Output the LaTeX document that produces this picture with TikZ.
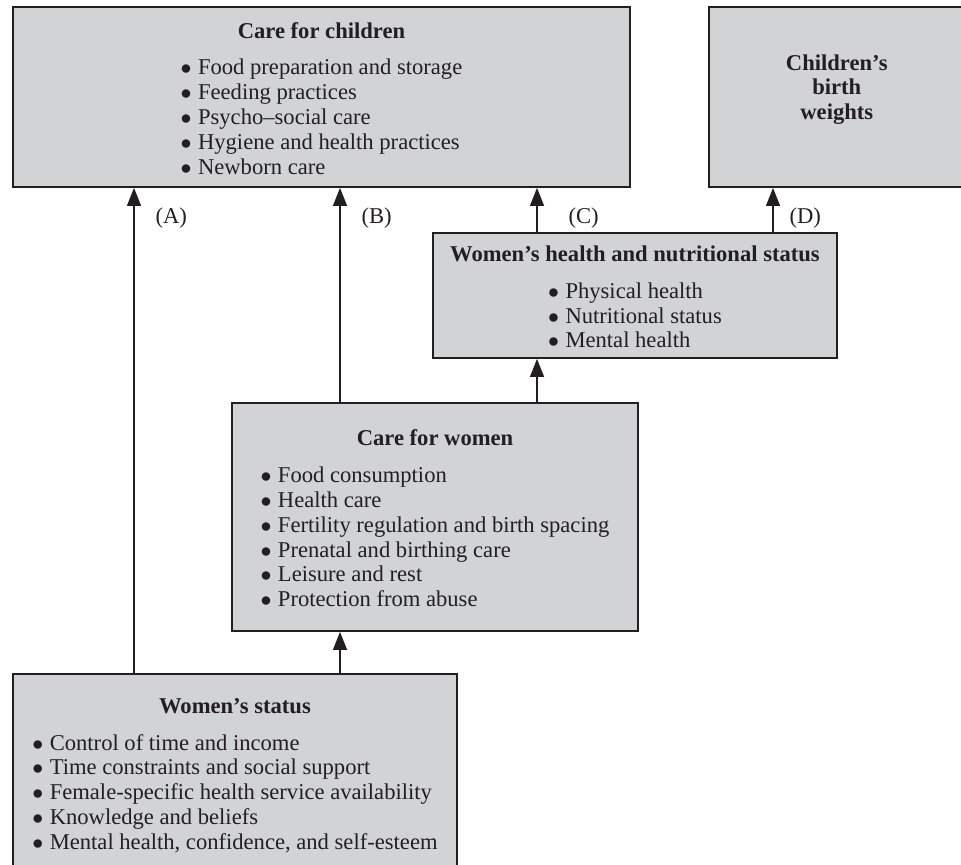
\documentclass[tikz,border=0pt]{standalone}
\usepackage{fontspec}
\setmainfont{Liberation Serif}
\usetikzlibrary{arrows.meta,positioning}

\definecolor{boxgray}{RGB}{209,211,212}
\definecolor{ink}{RGB}{35,31,32}

% title plus a left-aligned list, centred as a block
\newcommand{\itemlist}[2]{\rule{0pt}{13pt}\textbf{#1}\\[5.9pt]\begin{tabular}[t]{@{}l@{}}#2\end{tabular}}
\newcommand{\bul}{$\bullet$\hspace{3.2pt}}

\begin{document}
\begin{tikzpicture}[
    x=0.5pt, y=-0.5pt,
    node distance=38.5pt,
    box/.style={rectangle, draw=ink, line width=0.9pt, fill=boxgray, align=center, text=ink, inner sep=0pt, font=\fontsize{11.3pt}{12.4pt}\selectfont},
    arrow/.style={-{Triangle[length=9pt,width=7pt]}, line width=0.6pt, draw=ink, fill=ink},
    lbl/.style={inner sep=0pt, text=ink, font=\fontsize{11.3pt}{12.4pt}\selectfont}
]
\useasboundingbox (0,0) rectangle (961,864);

\node[box, minimum width=308.5pt, minimum height=90pt] (children) at (321.5,97)
    {\itemlist{Care for children}{\bul Food preparation and storage\\ \bul Feeding practices\\ \bul Psycho--social care\\ \bul Hygiene and health practices\\ \bul Newborn care}};
\node[box, minimum width=128pt, minimum height=90pt, right=of children] (weights)
    {\textbf{Children's}\\ \textbf{birth}\\ \textbf{weights}\\[-2.4pt]\mbox{}};
\node[box, minimum width=202pt, minimum height=62.5pt] (health) at (635,295.5)
    {\itemlist{Women's health and nutritional status}{\bul Physical health\\ \bul Nutritional status\\ \bul Mental health}};
\node[box, minimum width=203pt, minimum height=114pt] (carewomen) at (435,517)
    {\itemlist{Care for women}{\bul Food consumption\\ \bul Health care\\ \bul Fertility regulation and birth spacing\\ \bul Prenatal and birthing care\\ \bul Leisure and rest\\ \bul Protection from abuse}};
\node[box, minimum width=222pt, minimum height=98pt] (status) at (235,772)
    {\itemlist{Women's status}{\bul Control of time and income\\ \bul Time constraints and social support\\ \bul Female-specific health service availability\\ \bul Knowledge and beliefs\\ \bul Mental health, confidence, and self-esteem}};

\draw[arrow] (status.north -| 134,0) -- (children.south -| 134,0)
    node[lbl, at end, anchor=west, xshift=10.5pt, yshift=-15pt] {(A)};
\draw[arrow] (carewomen.north -| 340,0) -- (children.south -| 340,0)
    node[lbl, at end, anchor=west, xshift=10.5pt, yshift=-15pt] {(B)};
\draw[arrow] (health.north -| 537,0) -- (children.south -| 537,0)
    node[lbl, at end, anchor=west, xshift=15.5pt, yshift=-15pt] {(C)};
\draw[arrow] (health.north -| 773,0) -- (weights.south -| 773,0)
    node[lbl, at end, anchor=west, xshift=8pt, yshift=-15pt] {(D)};
\draw[arrow] (carewomen.north -| 537,0) -- (health.south -| 537,0);
\draw[arrow] (status.north -| 340,0) -- (carewomen.south -| 340,0);

\end{tikzpicture}
\end{document}
